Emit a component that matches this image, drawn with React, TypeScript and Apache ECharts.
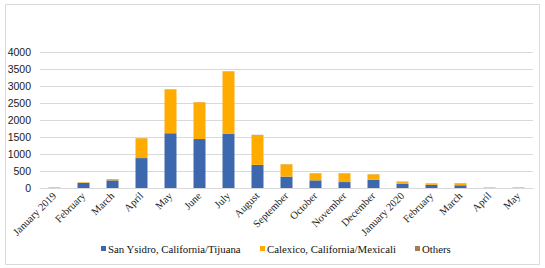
import React, { useEffect, useRef } from "react";
import * as echarts from "echarts";

const categories = [
  "January 2019", "February", "March", "April", "May", "June", "July", "August",
  "September", "October", "November", "December", "January 2020", "February", "March", "April", "May",
];
const sanYsidro = [6, 150, 225, 880, 1610, 1440, 1600, 680, 335, 225, 175, 245, 120, 95, 80, 4, 3];
const calexico = [2, 15, 35, 580, 1290, 1080, 1830, 880, 360, 205, 255, 155, 55, 35, 40, 2, 2];
const others = [5, 3, 3, 5, 5, 5, 5, 5, 5, 5, 5, 5, 12, 8, 15, 6, 8];
const seriesNames = ["San Ysidro, California/Tijuana", "Calexico, California/Mexicali", "Others"];
const seriesColors = ["#3e68ad", "#ffab00", "#a57c58"];
const yTicks = { min: 0, max: 4000, interval: 500 };

export default function App() {
  const ref = useRef<HTMLDivElement>(null);
  useEffect(() => {
    const chart = echarts.init(ref.current!, null, { renderer: "svg" });
    const barW = 12;
    const serif = "Liberation Serif";
    const legendX = [101, 260, 415];
    const legendY = 246;
    const legendItems: any[] = [];
    seriesNames.forEach((n, i) => {
      legendItems.push({
        type: "rect",
        shape: { x: legendX[i], y: legendY, width: 5, height: 5 },
        style: { fill: seriesColors[i] },
        silent: true,
      });
      legendItems.push({
        type: "text",
        x: legendX[i] + 7,
        y: legendY + 2.5,
        style: {
          text: n,
          fontFamily: serif,
          fontSize: 10.8,
          fill: "#111111",
          verticalAlign: "middle",
          align: "left",
        },
        silent: true,
      });
    });
    chart.setOption({
      animation: false,
      backgroundColor: "#ffffff",
      textStyle: { fontFamily: serif },
      graphic: [
        {
          type: "rect",
          shape: { x: 5.5, y: 4.5, width: 534, height: 260 },
          style: { fill: "none", stroke: "#d9d9d9", lineWidth: 1 },
          silent: true,
        },
        ...legendItems,
      ],
      grid: { left: 40, right: 12, top: 52, bottom: 80, containLabel: false },
      legend: { show: false, data: seriesNames },
      xAxis: {
        type: "category",
        data: categories,
        axisLine: { show: true, lineStyle: { color: "#d9d9d9" } },
        axisTick: { show: false },
        axisLabel: {
          rotate: 45,
          interval: 0,
          margin: 6,
          fontFamily: serif,
          fontSize: 10.5,
          color: "#1a1a1a",
        },
      },
      yAxis: {
        type: "value",
        min: yTicks.min,
        max: yTicks.max,
        interval: yTicks.interval,
        axisLine: { show: false },
        axisTick: { show: false },
        splitLine: { lineStyle: { color: "#d9d9d9" } },
        axisLabel: {
          fontFamily: "Liberation Sans",
          fontSize: 10.5,
          color: "#1a1a1a",
          margin: 9,
          formatter: (v: number) => String(v),
        },
      },
      series: [
        {
          name: seriesNames[0],
          type: "bar",
          stack: "total",
          barWidth: barW,
          data: sanYsidro,
          itemStyle: { color: seriesColors[0] },
        },
        {
          name: seriesNames[1],
          type: "bar",
          stack: "total",
          barWidth: barW,
          data: calexico,
          itemStyle: { color: seriesColors[1] },
        },
        {
          name: seriesNames[2],
          type: "bar",
          stack: "total",
          barWidth: barW,
          data: others,
          itemStyle: { color: seriesColors[2] },
        },
      ],
    });
    return () => chart.dispose();
  }, []);
  return (
    <div
      ref={ref}
      style={{ position: "absolute", left: 0, top: 0, width: 545, height: 268 }}
    />
  );
}
